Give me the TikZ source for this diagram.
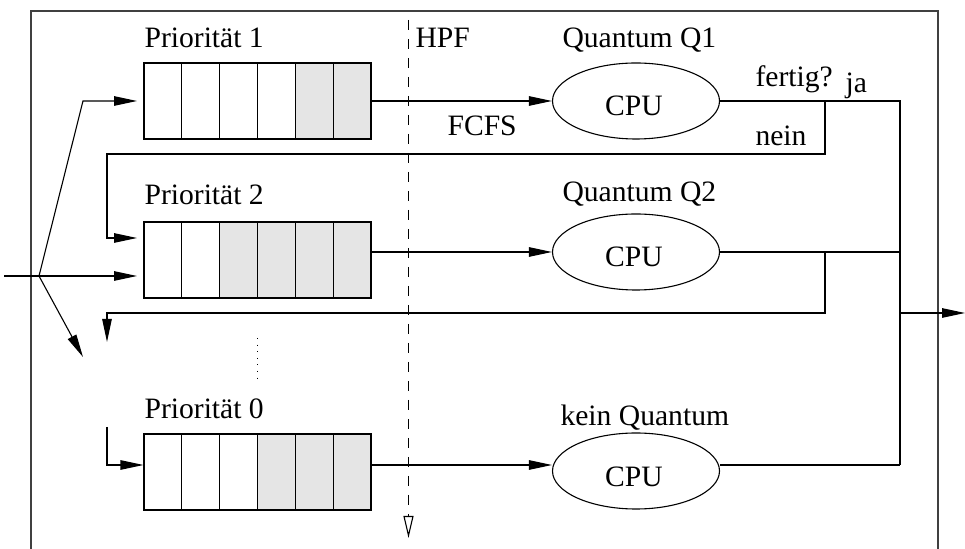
\documentclass[tikz,border=0pt]{standalone}
\usepackage{fontspec}
\setmainfont{Liberation Serif}
\usetikzlibrary{arrows.meta,shapes.geometric}
\begin{document}
\begin{tikzpicture}[x=0.5pt,y=-0.5pt,
  line width=0.55pt,
  lbl/.style={inner sep=0pt, anchor=base west, font=\fontsize{14.8}{17}\selectfont},
  queuebox/.style={draw, rectangle, minimum width=113.5pt, minimum height=38pt, inner sep=0pt},
  cpu/.style={draw, ellipse, minimum width=83.5pt, minimum height=38pt, inner sep=0pt},
  cputext/.style={inner sep=0pt, font=\fontsize{14.8}{17}\selectfont},
  arr/.style={-{Triangle[length=11.5pt,width=4.75pt]}},
  openarr/.style={-{Triangle[open,length=11pt,width=5pt]}},
  frameline/.style={draw=black!75, line width=0.7pt},
  shade/.style={fill=black!10},
  hpfline/.style={dash pattern=on 5pt off 4.5pt},
  dotline/.style={dash pattern=on 0.55pt off 2.75pt},
]
\useasboundingbox (0,0) rectangle (965,549);

% frame (open at the bottom)
\draw[frameline] (31,570) -- (31,11) -- (938,11) -- (938,570);

% queue 1
\fill[shade] (295.33,63) rectangle (371,139);
\foreach \i in {1,...,5} \draw ({144+\i*37.8333},63) -- ({144+\i*37.8333},139);
\node[queuebox] (q1) at (257.5,101) {};
% queue 2
\fill[shade] (219.67,222) rectangle (371,298);
\foreach \i in {1,...,5} \draw ({144+\i*37.8333},222) -- ({144+\i*37.8333},298);
\node[queuebox] (q2) at (257.5,260) {};
% queue 0
\fill[shade] (257.5,434) rectangle (371,510);
\foreach \i in {1,...,5} \draw ({144+\i*37.8333},434) -- ({144+\i*37.8333},510);
\node[queuebox] (q0) at (257.5,472) {};

% CPUs
\node[cpu] (c1) at (636,101) {};
\node[cputext] (t1) at (634,106) {CPU};
\node[cpu] (c2) at (636,252) {};
\node[cputext] (t2) at (634,257) {CPU};
\node[cpu] (c0) at (636,471) {};
\node[cputext] (t0) at (634,477) {CPU};

% labels
\node[lbl] (p1) at (144,48) {Priorität 1};
\node[lbl] (p2) at (144,205) {Priorität 2};
\node[lbl] (p0) at (144,419) {Priorität 0};
\node[lbl] (hpf) at (415,48) {HPF};
\node[lbl] (qq1) at (562,48) {Quantum Q1};
\node[lbl] (qq2) at (562,202) {Quantum Q2};
\node[lbl] (kq) at (560,426) {kein Quantum};
\node[lbl] (fertig) at (755,87) {fertig?};
\node[lbl] (ja) at (845,93) {ja};
\node[lbl] (fcfs) at (447,136) {FCFS};
\node[lbl] (nein) at (755,146) {nein};

% coordinates
\coordinate (in) at (4,276);
\coordinate (fan) at (39,276);
\coordinate (b1) at (83,101);
\coordinate (e1) at (137,101);
\coordinate (e2) at (137,276);
\coordinate (e3) at (83,357);
\coordinate (l0) at (0,465);
\coordinate (l2) at (0,252);
\coordinate (jx) at (900,0);
\coordinate (nx) at (825,0);
\coordinate (exit) at (965,313);

% input fan
\draw (in) -- (fan);
\draw[arr] (fan) -- (b1) -- (e1);
\draw[arr] (fan) -- (e2);
\draw[arr] (fan) -- (e3);

% queue -> cpu
\draw[arr] (q1.east) -- (c1.west);
\draw[arr] (q2.east |- l2) -- (c2.west |- l2);
\draw[arr] (q0.east |- l0) -- (c0.west |- l0);

% outputs
\draw (c1.east) -- (jx |- c1.east) -- (jx |- l0);
\draw (c2.east) -- (jx |- c2.east);
\draw (c0.east |- l0) -- (jx |- l0);
\draw[arr] (jx |- exit) -- (exit);

% feedback loops
\draw[arr] (nx |- c1.east) -- (825,154) -- (107,154) -- (107,238) -- (137,238);
\draw[arr] (nx |- c2.east) -- (825,313) -- (107,313) -- (107,342);
\draw[arr] (107,427) -- (107,465) -- (q0.west |- l0);

% HPF line and dots
\draw[hpfline, openarr] (408.5,20) -- (408.5,538);
\draw[dotline] (257.5,338) -- (257.5,381);
\end{tikzpicture}
\end{document}
